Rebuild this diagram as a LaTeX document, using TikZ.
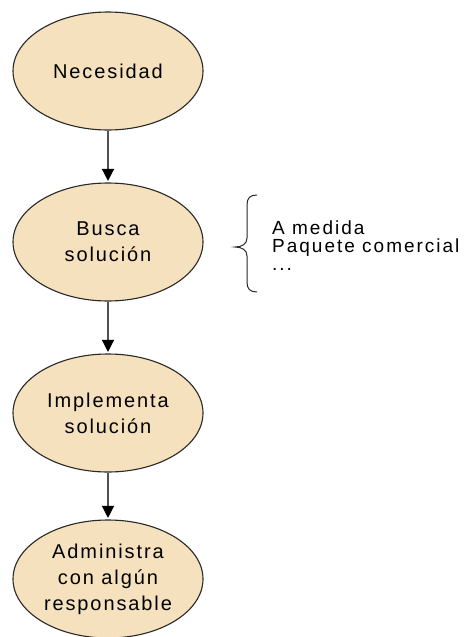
\documentclass[tikz,border=0pt]{standalone}
\usepackage{fontspec}
\setmainfont{Liberation Sans}
\newfontfamily\stepfont{Liberation Sans}[LetterSpace=9.5]
\newfontfamily\notefont{Liberation Sans}[LetterSpace=10.5]
\usetikzlibrary{shapes.geometric,arrows.meta}
\definecolor{stepfill}{RGB}{245,225,189}
\definecolor{stepline}{RGB}{40,40,40}
\definecolor{flowline}{RGB}{80,80,80}
\begin{document}
\begin{tikzpicture}[x=1pt,y=-1pt,
  stepbox/.style={ellipse,draw=stepline,line width=1.1pt,fill=stepfill,
    minimum width=190pt,minimum height=118pt,inner sep=0pt,align=center,
    font=\stepfont\fontsize{20}{26}\selectfont},
  flow/.style={draw=flowline,line width=1.3pt,
    -{Triangle[width=12pt,length=12pt,fill=black,color=black]},shorten >=1.5pt},
  note/.style={anchor=base west,align=left,inner sep=0pt,
    font=\notefont\fontsize{19}{18}\selectfont}]
  \useasboundingbox (0,0) rectangle (472,637);
  % process steps
  \node[stepbox] (need) at (108,71) {Necesidad};
  \node[stepbox] (search) at (108,242) {Busca\\solución};
  \node[stepbox] (impl) at (108,413) {Implementa\\solución};
  \node[stepbox] (admin) at (108,579) {Administra\\con algún\\responsable};
  % connectors
  \draw[flow] (need) -- (search);
  \draw[flow] (search) -- (impl);
  \draw[flow] (impl) -- (admin);
  % options brace
  \draw[stepline,line width=1pt]
    (257,195) .. controls (250,195) and (247,198) .. (247,205)
    -- (247,238) .. controls (247,244) and (242,247) .. (235,247)
    .. controls (242,247) and (247,250) .. (247,256)
    -- (247,282) .. controls (247,289) and (250,292) .. (257,292);
  % base anchor sits on the last line of the list
  \node[note] (opts) at (272,270) {A medida\\Paquete comercial\\...};
\end{tikzpicture}
\end{document}
